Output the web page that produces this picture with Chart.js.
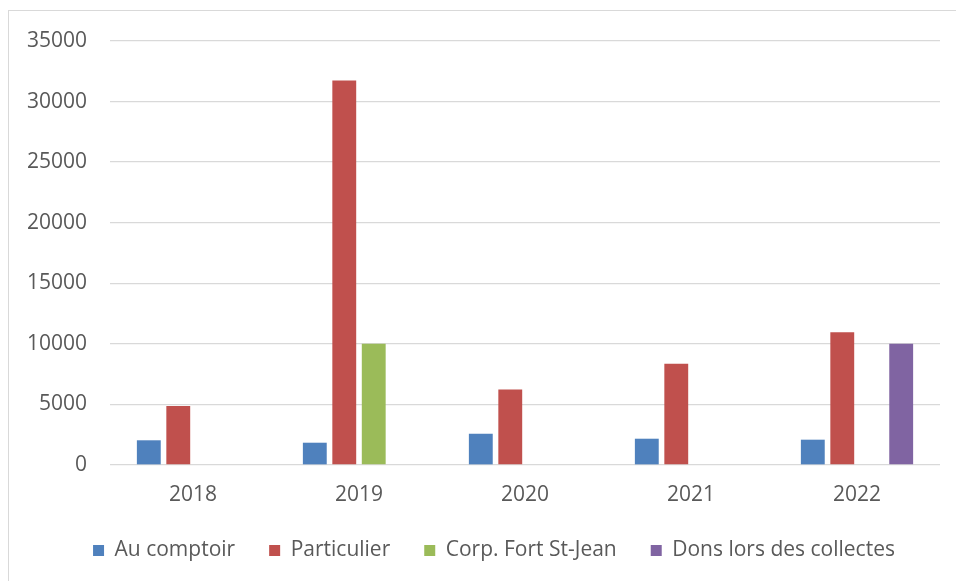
<!DOCTYPE html>
<html>
<head>
<meta charset="utf-8">
<script src="https://cdn.jsdelivr.net/npm/chart.js@4"></script>
<style>
    body { margin: 0; background: #fff; }
    #wrap { position: relative; width: 956px; height: 581px; overflow: hidden; }
    #frame { position: absolute; left: 8px; top: 10px; width: 1000px; height: 700px; border: 1px solid #d9d9d9; }
    canvas { position: absolute; left: 0; top: 0; }
</style>
</head>
<body>
<div id="wrap">
    <div id="frame"></div>
    <canvas id="chart" width="956" height="581"></canvas>
</div>
<script>
// données du graphique
const years = ['2018', '2019', '2020', '2021', '2022'];
const auComptoir = [2040, 1840, 2580, 2170, 2090];
const particulier = [4870, 31740, 6240, 8360, 10950];
const corpFortStJean = [0, 10000, 0, 0, 0];
const donsCollectes = [0, 0, 0, 0, 10000];
const yTicks = [0, 5000, 10000, 15000, 20000, 25000, 30000, 35000];

const fontFam = '"Open Sans", "Liberation Sans", sans-serif';
Chart.defaults.font.family = fontFam;
Chart.defaults.color = '#595959';

function ds(label, data, color) {
    return {
        label: label,
        data: data,
        backgroundColor: color,
        borderWidth: 0,
        barPercentage: 0.81,
        categoryPercentage: 0.71
    };
}

// décale un peu la légende vers la droite (comme dans l'original)
const legendShift = {
    id: 'legendShift',
    afterLayout(chart) {
        chart.legend.left += 24;
        chart.legend.right += 24;
    }
};

new Chart(document.getElementById('chart').getContext('2d'), {
    type: 'bar',
    data: {
        labels: years,
        datasets: [
            ds('Au comptoir', auComptoir, '#4f81bd'),
            ds('Particulier', particulier, '#c0504d'),
            ds('Corp. Fort St-Jean', corpFortStJean, '#9bbb59'),
            ds('Dons lors des collectes', donsCollectes, '#8064a2')
        ]
    },
    plugins: [legendShift],
    options: {
        responsive: false,
        animation: false,
        layout: { padding: { top: 41, right: 16, left: 0, bottom: 10 } },
        scales: {
            y: {
                min: 0,
                max: 35000,
                afterBuildTicks: s => { s.ticks = yTicks.map(v => ({ value: v })); },
                afterFit: s => { s.width = 110; },
                grid: { color: '#d9d9d9', lineWidth: 1.3, drawTicks: false },
                border: { display: false },
                ticks: { padding: 23, font: { size: 21 }, color: '#595959', callback: v => String(v) }
            },
            x: {
                afterFit: s => { s.height = 41; },
                grid: { display: false },
                border: { display: false },
                ticks: { padding: 9, font: { size: 21 }, color: '#595959' }
            }
        },
        plugins: {
            legend: {
                position: 'bottom',
                labels: {
                    boxWidth: 11,
                    boxHeight: 11,
                    padding: 34,
                    font: { size: 21 },
                    color: '#595959'
                }
            },
            tooltip: { enabled: false }
        }
    }
});
</script>
</body>
</html>
